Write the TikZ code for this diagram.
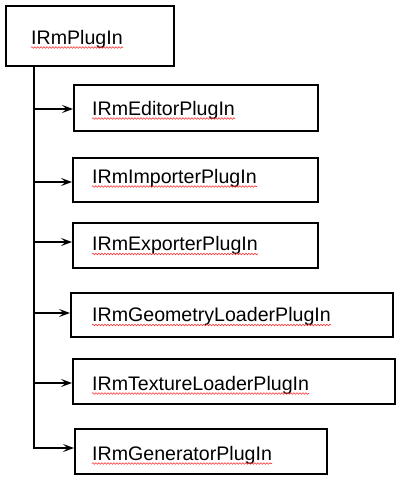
\documentclass[tikz,border=0pt]{standalone}
\usepackage{fontspec}
\setmainfont{Liberation Sans}
\usetikzlibrary{arrows.meta,calc,decorations.pathmorphing}
\begin{document}
\begin{tikzpicture}[x=1pt,y=-1pt,
  boxstyle/.style={draw=black,line width=2pt,fill=none,inner sep=0pt},
  lbl/.style={inner sep=0pt,anchor=base west,font=\fontsize{19.6}{23}\selectfont},
  trunkline/.style={line width=2pt},
  arr/.style={line width=1.9pt,-{Stealth[length=11pt,width=8pt,inset=4.5pt]}},
  squig/.style={draw=red!80!white,line width=0.6pt,decorate,decoration={snake,amplitude=0.8pt,segment length=3pt}}]
\useasboundingbox (0,0) rectangle (401,479);
% boxes
\node[boxstyle,minimum width=168pt,minimum height=60pt,anchor=north west] (root) at (5,5) {};
\node[boxstyle,minimum width=244pt,minimum height=46pt,anchor=north west] (b1) at (73,84) {};
\node[boxstyle,minimum width=245pt,minimum height=44pt,anchor=north west] (b2) at (72,157) {};
\node[boxstyle,minimum width=245pt,minimum height=45pt,anchor=north west] (b3) at (72,222) {};
\node[boxstyle,minimum width=322pt,minimum height=44pt,anchor=north west] (b4) at (70,292) {};
\node[boxstyle,minimum width=322pt,minimum height=45pt,anchor=north west] (b5) at (72,358) {};
\node[boxstyle,minimum width=252pt,minimum height=45pt,anchor=north west] (b6) at (74,428) {};
% labels
\node[lbl] (t0) at (31,44) {IRmPlugIn};
\node[lbl] (t1) at (92,115) {IRmEditorPlugIn};
\node[lbl] (t2) at (92,183) {IRmImporterPlugIn};
\node[lbl] (t3) at (92,250.5) {IRmExporterPlugIn};
\node[lbl] (t4) at (92,321.5) {IRmGeometryLoaderPlugIn};
\node[lbl] (t5) at (92,390) {IRmTextureLoaderPlugIn};
\node[lbl] (t6) at (92,460) {IRmGeneratorPlugIn};
% spell-check underlines
\foreach \t in {t0,t1,t2,t3,t4,t5,t6}{
  \draw[squig] ($(\t.base west)+(0,3.5)$) -- ($(\t.base east)+(0,3.5)$);
}
% trunk
\coordinate (trunktop) at (34,65);
\coordinate (trunkbot) at (34,449);
\draw[trunkline] (trunktop) -- (trunkbot);
% arrows
\coordinate (a1) at (34,109);
\coordinate (a2) at (34,182);
\coordinate (a3) at (34,242);
\coordinate (a4) at (34,313);
\coordinate (a5) at (34,383);
\coordinate (a6) at (34,448);
\draw[arr] (a1) -- (a1 -| b1.west);
\draw[arr] (a2) -- (a2 -| b2.west);
\draw[arr] (a3) -- (a3 -| b3.west);
\draw[arr] (a4) -- (a4 -| b4.west);
\draw[arr] (a5) -- (a5 -| b5.west);
\draw[arr] (a6) -- (a6 -| b6.west);
\end{tikzpicture}
\end{document}
